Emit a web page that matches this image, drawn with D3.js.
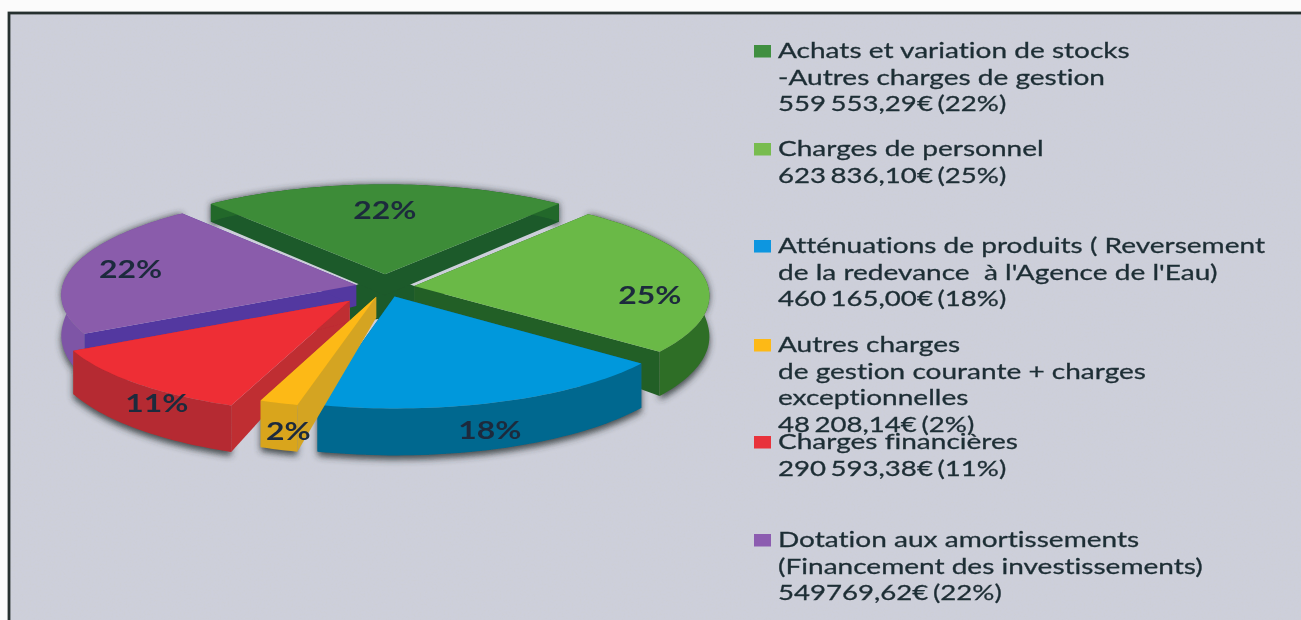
<!DOCTYPE html>
<html><head><meta charset="utf-8">
<script src="https://cdn.jsdelivr.net/npm/d3@7/dist/d3.min.js"></script>
<style>html,body{margin:0;padding:0;background:#fbfbfb;overflow:hidden}svg{display:block}text{font-variant-ligatures:none;font-feature-settings:"liga" 0}</style>
</head><body><svg id="c" width="1301" height="620"></svg>
<script>
// ---- data ----
const categories = ["Achats et variation de stocks -Autres charges de gestion","Charges de personnel","Atténuations de produits","Autres charges de gestion courante + charges exceptionnelles","Charges financières","Dotation aux amortissements"];
const amounts = [559553.29, 623836.10, 460165.00, 48208.14, 290593.38, 549769.62];
const percentLabels = ["22%","25%","18%","2%","11%","22%"];
const legendLines = [
 ["Achats et variation de stocks","-Autres charges de gestion","559 553,29€ (22%)"],
 ["Charges de personnel","623 836,10€ (25%)"],
 ["Atténuations de produits ( Reversement","de la redevance  à l'Agence de l'Eau)","460 165,00€ (18%)"],
 ["Autres charges","de gestion courante + charges","exceptionnelles","48 208,14€ (2%)"],
 ["Charges financières","290 593,38€ (11%)"],
 ["Dotation aux amortissements","(Financement des investissements)","549769,62€ (22%)"]
];
// ---- style / layout ----
const topColors  = ["#3c8c37","#6bb946","#0098dc","#fdb913","#ee2d35","#8a5bab"];
const rimColors  = ["#24672c","#2f6e25","#00688f","#d9a51e","#b52a30","#7e54a6"];
const cutColors  = ["#1c5a2a","#235f27","#00688f","#d4a424","#bf2d33","#5238a0"];
const swatch     = ["#3f8f3f","#78bc50","#0a96e0","#fdb913","#e8333a","#8c5cb0"];
const explode    = [0.13,0.10,0.10,0.10,0.18,0.10];
const labelFrac  = [0.5,0.64,0.53,0.5,0.4,0.48];
const labelR     = [0.72,0.80,1,0.91,0.98,0.79];
const labelDrop  = [2,0,27,39,17,-3];
const legendBase = [58,156,253,352,449,547];
const paintOrder = [0,5,1,4,2,3];
const lineH = 26.7;

const W=1301,H=620,cx=385,cy=287,ax=294,by=100,k=0.09,hApex=21;
const hRim=d3.scaleLinear().domain([-0.8,0,1]).range([17,40,47]).clamp(true);
const svg=d3.select("#c");
const defs=svg.append("defs");
const paper=defs.append("filter").attr("id","paper").attr("x",0).attr("y",0).attr("width","100%").attr("height","100%");
paper.append("feTurbulence").attr("type","fractalNoise").attr("baseFrequency",0.5).attr("numOctaves",3).attr("seed",4);
paper.append("feColorMatrix").attr("values","0 0 0 0 0.62  0 0 0 0 0.62  0 0 0 0 0.56  0.9 0 0 0 -0.3");
defs.append("filter").attr("id","shadow").attr("x","-10%").attr("y","-10%").attr("width","120%").attr("height","130%")
  .append("feGaussianBlur").attr("stdDeviation",3.5);
defs.append("filter").attr("id","soft").append("feGaussianBlur").attr("stdDeviation",0.45);

// page and frame
svg.append("rect").attr("width",W).attr("height",H).attr("fill","#fbfbfb");
svg.append("rect").attr("x",9).attr("y",13).attr("width",W).attr("height",H).attr("fill","#cdcfdb");
// paper texture on the sheet only
svg.append("rect").attr("x",9).attr("y",13).attr("width",W).attr("height",H).attr("filter","url(#paper)").attr("opacity",0.45);
svg.append("rect").attr("x",9).attr("y",13).attr("width",W).attr("height",H).attr("fill","none")
   .attr("stroke","#26302f").attr("stroke-width",2.8);

const pie=d3.pie().sort(null).value(d=>d).startAngle(-39.8*Math.PI/180).endAngle(320.2*Math.PI/180);
const arcs=pie(amounts);
const line=d3.line().x(d=>d[0]).y(d=>d[1]);
function P(a,theta,r,withDepth){
  const mid=(a.startAngle+a.endAngle)/2,e=explode[a.index];
  const U=e*Math.sin(mid)+r*Math.sin(theta),V=-(e*Math.cos(mid)+r*Math.cos(theta));
  const s=1/(1-k*V);
  const h=withDepth?hApex+(hRim(-Math.cos(theta))-hApex)*r:0;
  return [cx+ax*U*s,cy+by*V*s+h];
}
function rim(a,depth){const n=Math.max(6,Math.ceil((a.endAngle-a.startAngle)*40));
  return d3.range(n+1).map(i=>P(a,a.startAngle+(a.endAngle-a.startAngle)*i/n,1,depth));}
function closed(pts){return line(pts)+"Z";}

const pieG=svg.append("g").attr("filter","url(#soft)");
// soft ground shadow
const sh=pieG.append("g").attr("filter","url(#shadow)").attr("opacity",0.85);
arcs.forEach(a=>{const b=rim(a,true).map(p=>[p[0],p[1]+4]);
  sh.append("path").attr("d",closed(rim(a,false).concat(b.reverse()))).attr("fill","#2a3030");});

paintOrder.forEach((i,o)=>{
  const a=arcs[i],g=pieG.append("g");
  const apexT=P(a,a.startAngle,0,false),apexB=P(a,a.startAngle,0,true);
  [a.startAngle,a.endAngle].forEach(t=>{
    g.append("path").attr("d",closed([apexT,P(a,t,1,false),P(a,t,1,true),apexB])).attr("fill",cutColors[i]);
  });
  g.append("path").attr("d",closed(rim(a,false).concat(rim(a,true).reverse()))).attr("fill",rimColors[i]);
  g.append("path").attr("d",closed([apexT].concat(rim(a,false)))).attr("fill",topColors[i]);
  if(o===0){ // dark central core seen between the exploded slices
    const pts=[];arcs.forEach(b=>{pts.push(P(b,b.startAngle,0,false));pts.push(P(b,b.startAngle,0,true));});
    pieG.append("path").attr("d",closed(d3.polygonHull(pts))).attr("fill","#1c5a2a");
    g.raise();
  }
});

// percent labels
const sx=1.33;
arcs.forEach((a,i)=>{
  const t=a.startAngle+(a.endAngle-a.startAngle)*labelFrac[i];
  const p=P(a,t,labelR[i],false);
  pieG.append("text").attr("text-anchor","middle").attr("transform",`translate(${p[0]},${p[1]+labelDrop[i]+8.5}) scale(${sx},1)`)
    .attr("font-family","Lato").attr("font-weight",700).attr("font-size",24).attr("fill","#1d2b3c").text(percentLabels[i]);
});

// legend
const leg=svg.append("g").attr("filter","url(#soft)");
legendLines.forEach((lines,i)=>{
  leg.append("rect").attr("x",754).attr("y",legendBase[i]-13).attr("width",17).attr("height",12.5).attr("fill",swatch[i]);
  lines.forEach((t,j)=>{
    const num=/€/.test(t);
    leg.append("text").attr("transform",`translate(778,${legendBase[i]+j*lineH}) scale(${num?1.255:1.275},1)`)
      .attr("font-family","Lato").attr("font-size",22).attr("fill","#1f2e35").attr("stroke","#1f2e35").attr("stroke-width",0.3)
      .attr("word-spacing",num?-2:0).style("white-space","pre").text(t);
  });
});
</script></body></html>
